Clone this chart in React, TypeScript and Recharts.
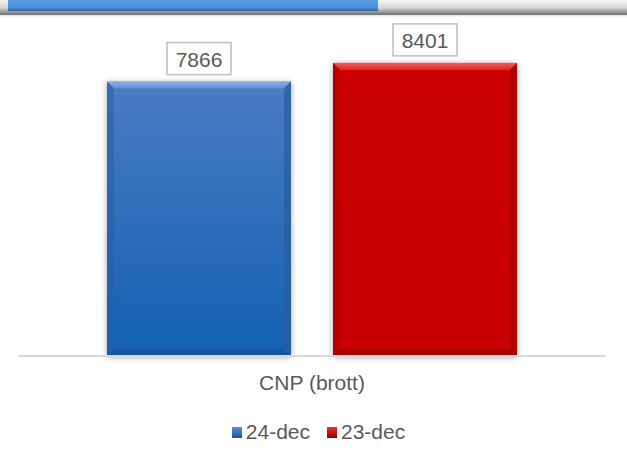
import React from "react";
import { BarChart, Bar, XAxis, YAxis, Legend, LabelList } from "recharts";

const categories = ["CNP (brott)"];
const series24 = [7866];
const series23 = [8401];
const seriesNames = ["24-dec", "23-dec"];

const data = categories.map((c, i) => ({ cat: c, d24: series24[i], d23: series23[i] }));

const FONT = "'Liberation Sans', Arial, sans-serif";

type Pal = { top: string; bodyTop: string; bodyBottom: string; side: string; bottom: string; topBevel: string };
const BLUE: Pal = { top: "#8db3e2", topBevel: "#5f8fcf", bodyTop: "#4a7cc2", bodyBottom: "#1260b2", side: "#2b5d9e", bottom: "#1a4f8c" };
const RED: Pal = { top: "#f05a5a", topBevel: "#e02828", bodyTop: "#cc0505", bodyBottom: "#c80000", side: "#a80000", bottom: "#8c0000" };

const makeShape = (pal: Pal, id: string) => (props: any) => {
  const { x, y, width, height } = props;
  const b = 7;
  const r = x + width;
  const btm = y + height;
  return (
    <g>
      <defs>
        <linearGradient id={`g-${id}`} x1="0" y1="0" x2="0" y2="1">
          <stop offset="0" stopColor={pal.bodyTop} />
          <stop offset="1" stopColor={pal.bodyBottom} />
        </linearGradient>
        <linearGradient id={`t-${id}`} x1="0" y1="0" x2="0" y2="1">
          <stop offset="0" stopColor={pal.top} />
          <stop offset="1" stopColor={pal.topBevel} />
        </linearGradient>
        <filter id={`s-${id}`} x="-10%" y="-10%" width="120%" height="120%">
          <feDropShadow dx="0" dy="1" stdDeviation="3" floodColor="#000" floodOpacity="0.35" />
        </filter>
      </defs>
      <rect x={x} y={y} width={width} height={height} fill={`url(#g-${id})`} filter={`url(#s-${id})`} />
      <polygon points={`${x},${y} ${r},${y} ${r - b},${y + b} ${x + b},${y + b}`} fill={`url(#t-${id})`} />
      <polygon points={`${x},${y} ${x + b},${y + b} ${x + b},${btm - b} ${x},${btm}`} fill={pal.side} opacity={0.55} />
      <polygon points={`${r},${y} ${r - b},${y + b} ${r - b},${btm - b} ${r},${btm}`} fill={pal.side} opacity={0.7} />
      <polygon points={`${x},${btm} ${x + b},${btm - b} ${r - b},${btm - b} ${r},${btm}`} fill={pal.bottom} opacity={0.6} />
    </g>
  );
};

const ValueBox = (props: any) => {
  const { x, y, width, value } = props;
  const cx = x + width / 2;
  const bw = 64;
  const bh = 32;
  const by = y - 7 - bh;
  return (
    <g>
      <rect x={cx - bw / 2} y={by} width={bw} height={bh} fill="#fff" stroke="#bfbfbf" strokeWidth={1.5} />
      <text x={cx} y={by + bh / 2 + 1} textAnchor="middle" dominantBaseline="central" fontFamily={FONT} fontSize={21} fill="#595959">
        {value}
      </text>
    </g>
  );
};

const CatTick = (props: any) => {
  const { x, y, payload } = props;
  return (
    <text x={x} y={y} dy={26} textAnchor="middle" fontFamily={FONT} fontSize={21} fill="#595959">
      {payload.value}
    </text>
  );
};

const LegendContent = () => {
  const items = [
    { name: seriesNames[0], c1: "#5b8fd0", c2: "#1a56a0" },
    { name: seriesNames[1], c1: "#e83030", c2: "#9a0000" },
  ];
  return (
    <div style={{ display: "flex", justifyContent: "center", alignItems: "center", paddingLeft: 10, fontFamily: FONT, fontSize: 21, color: "#595959" }}>
      {items.map((it, i) => (
        <div key={i} style={{ display: "flex", alignItems: "center", marginRight: i === 0 ? 17 : 0 }}>
          <span style={{ display: "inline-block", width: 10, height: 11, background: `linear-gradient(${it.c1}, ${it.c2})`, marginRight: 4 }} />
          <span>{it.name}</span>
        </div>
      ))}
    </div>
  );
};

export default function App() {
  return (
    <div style={{ position: "absolute", left: 0, top: 0, width: 627, height: 462, background: "#fff", overflow: "hidden" }}>
      <div style={{ position: "absolute", left: 0, top: 0, width: 627, height: 15, background: "linear-gradient(#f4f4f4 0%, #d8d8d8 50%, #6e6e6e 100%)" }} />
      <div style={{ position: "absolute", left: 8, top: 0, width: 370, height: 11, background: "linear-gradient(#5aa0e2 0%, #4a90da 70%, #33609a 100%)" }} />
      <div style={{ position: "absolute", left: 0, top: 15, width: 627, height: 2, background: "linear-gradient(#dde3ea, #fff)" }} />
      <div style={{ position: "absolute", left: 0, top: 0 }}>
        <BarChart width={627} height={462} data={data} margin={{ top: 42, right: 21, bottom: 0, left: 18 }} barSize={184} barGap={42}>
          <YAxis hide domain={[0, 9000]} />
          <XAxis dataKey="cat" height={106} axisLine={{ stroke: "#d9d9d9", strokeWidth: 2 }} tickLine={false} tick={<CatTick />} />
          <Legend verticalAlign="middle" wrapperStyle={{ top: 420, left: 0, width: 627 }} content={<LegendContent />} />
          <Bar dataKey="d24" name={seriesNames[0]} fill="#1260b2" isAnimationActive={false} shape={makeShape(BLUE, "b")}>
            <LabelList dataKey="d24" content={<ValueBox />} />
          </Bar>
          <Bar dataKey="d23" name={seriesNames[1]} fill="#cc0000" isAnimationActive={false} shape={makeShape(RED, "r")}>
            <LabelList dataKey="d23" content={<ValueBox />} />
          </Bar>
        </BarChart>
      </div>
    </div>
  );
}
